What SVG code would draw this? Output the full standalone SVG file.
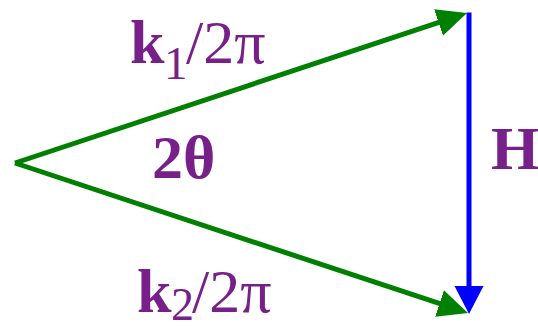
<svg xmlns="http://www.w3.org/2000/svg" width="538" height="330" viewBox="0 0 538 330">
<defs>
<style>
.lbl{font-family:"Liberation Serif","Times New Roman",serif;fill:#78208a;font-size:62px}
.b{font-weight:bold}
.g{stroke:#008000;stroke-width:5;fill:none}
.bl{stroke:#0000ff;stroke-width:5;fill:none}
</style>
<marker id="ag" markerUnits="userSpaceOnUse" markerWidth="32" markerHeight="30" refX="10" refY="14" orient="auto"><path d="M0,0 L30,14 L0,28 z" fill="#008000"/></marker>
<marker id="ab" markerUnits="userSpaceOnUse" markerWidth="32" markerHeight="30" refX="8" refY="14.5" orient="auto"><path d="M0,0 L28,14.5 L0,29 z" fill="#0000ff"/></marker>
</defs>
<g id="connectors">
<path class="g" d="M15,163 L448,19.3" marker-end="url(#ag)"/>
<path class="g" d="M15,163 L449,306.7" marker-end="url(#ag)"/>
<path class="bl" d="M469,12.5 L469,294" marker-end="url(#ab)"/>
</g>
<g id="k1">
<text class="lbl"><tspan class="b" x="130" y="63">k</tspan><tspan x="164" y="79" font-size="47">1</tspan><tspan x="186" y="63">/2π</tspan></text>
</g>
<g id="k2">
<text class="lbl"><tspan class="b" x="137" y="312">k</tspan><tspan x="171" y="320" font-size="46">2</tspan><tspan x="192" y="312">/2π</tspan></text>
</g>
<g id="angle">
<text class="lbl b" x="152" y="178">2θ</text>
</g>
<g id="H">
<text class="lbl b" x="491" y="169" font-size="60">H</text>
</g>
</svg>
